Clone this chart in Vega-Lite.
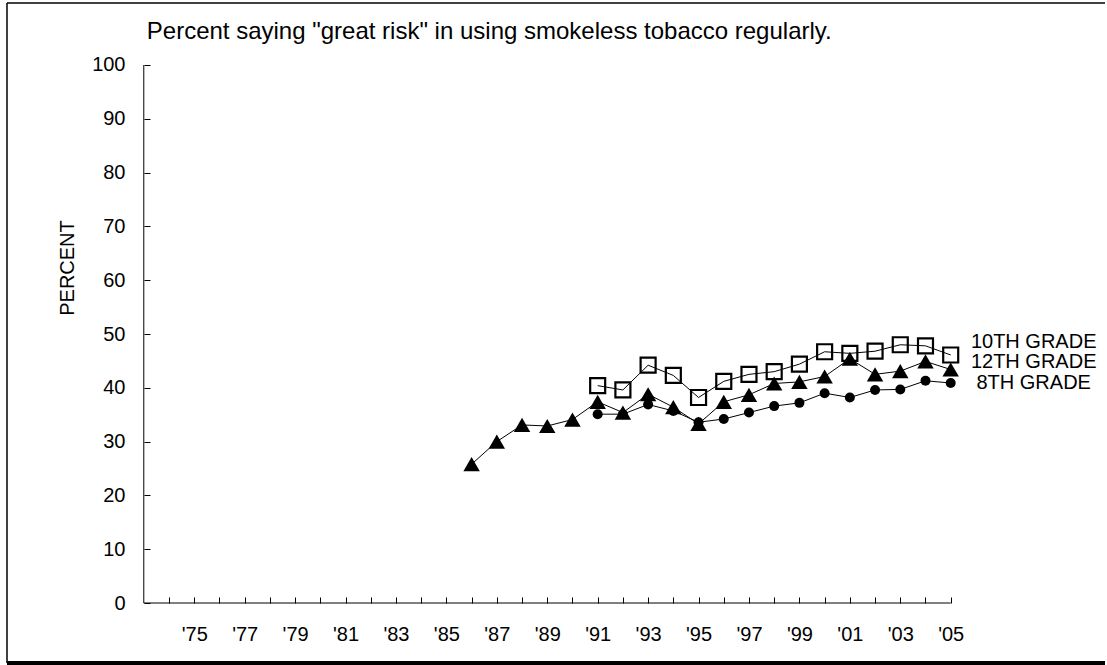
{
  "$schema": "https://vega.github.io/schema/vega-lite/v6.json",
  "width": 1098,
  "height": 660,
  "autosize": {"type": "none"},
  "padding": {"left": 7, "top": 3, "right": 2, "bottom": 2},
  "background": "white",
  "config": {
    "view": {"stroke": null},
    "font": "Liberation Sans",
    "axis": {
      "labelFont": "Liberation Sans",
      "titleFont": "Liberation Sans",
      "labelColor": "black",
      "titleColor": "black",
      "tickColor": "black",
      "labelFontSize": 20,
      "titleFontSize": 20,
      "titleFontWeight": "normal",
      "grid": false,
      "domain": false
    }
  },
  "datasets": {
    "series": [
      {"grade": "12TH GRADE", "year": 1986, "pct": 25.8},
      {"grade": "12TH GRADE", "year": 1987, "pct": 30.0},
      {"grade": "12TH GRADE", "year": 1988, "pct": 33.1},
      {"grade": "12TH GRADE", "year": 1989, "pct": 32.9},
      {"grade": "12TH GRADE", "year": 1990, "pct": 34.1},
      {"grade": "12TH GRADE", "year": 1991, "pct": 37.4},
      {"grade": "12TH GRADE", "year": 1992, "pct": 35.4},
      {"grade": "12TH GRADE", "year": 1993, "pct": 38.8},
      {"grade": "12TH GRADE", "year": 1994, "pct": 36.4},
      {"grade": "12TH GRADE", "year": 1995, "pct": 33.3},
      {"grade": "12TH GRADE", "year": 1996, "pct": 37.4},
      {"grade": "12TH GRADE", "year": 1997, "pct": 38.7},
      {"grade": "12TH GRADE", "year": 1998, "pct": 40.8},
      {"grade": "12TH GRADE", "year": 1999, "pct": 41.1},
      {"grade": "12TH GRADE", "year": 2000, "pct": 42.1},
      {"grade": "12TH GRADE", "year": 2001, "pct": 45.4},
      {"grade": "12TH GRADE", "year": 2002, "pct": 42.5},
      {"grade": "12TH GRADE", "year": 2003, "pct": 43.1},
      {"grade": "12TH GRADE", "year": 2004, "pct": 44.9},
      {"grade": "12TH GRADE", "year": 2005, "pct": 43.4},
      {"grade": "10TH GRADE", "year": 1991, "pct": 40.4},
      {"grade": "10TH GRADE", "year": 1992, "pct": 39.6},
      {"grade": "10TH GRADE", "year": 1993, "pct": 44.2},
      {"grade": "10TH GRADE", "year": 1994, "pct": 42.3},
      {"grade": "10TH GRADE", "year": 1995, "pct": 38.2},
      {"grade": "10TH GRADE", "year": 1996, "pct": 41.2},
      {"grade": "10TH GRADE", "year": 1997, "pct": 42.5},
      {"grade": "10TH GRADE", "year": 1998, "pct": 43.0},
      {"grade": "10TH GRADE", "year": 1999, "pct": 44.4},
      {"grade": "10TH GRADE", "year": 2000, "pct": 46.7},
      {"grade": "10TH GRADE", "year": 2001, "pct": 46.4},
      {"grade": "10TH GRADE", "year": 2002, "pct": 46.8},
      {"grade": "10TH GRADE", "year": 2003, "pct": 48.0},
      {"grade": "10TH GRADE", "year": 2004, "pct": 47.8},
      {"grade": "10TH GRADE", "year": 2005, "pct": 46.1},
      {"grade": "8TH GRADE", "year": 1991, "pct": 35.1},
      {"grade": "8TH GRADE", "year": 1992, "pct": 35.1},
      {"grade": "8TH GRADE", "year": 1993, "pct": 36.9},
      {"grade": "8TH GRADE", "year": 1994, "pct": 35.7},
      {"grade": "8TH GRADE", "year": 1995, "pct": 33.6},
      {"grade": "8TH GRADE", "year": 1996, "pct": 34.2},
      {"grade": "8TH GRADE", "year": 1997, "pct": 35.4},
      {"grade": "8TH GRADE", "year": 1998, "pct": 36.6},
      {"grade": "8TH GRADE", "year": 1999, "pct": 37.2},
      {"grade": "8TH GRADE", "year": 2000, "pct": 39.0},
      {"grade": "8TH GRADE", "year": 2001, "pct": 38.2},
      {"grade": "8TH GRADE", "year": 2002, "pct": 39.6},
      {"grade": "8TH GRADE", "year": 2003, "pct": 39.7},
      {"grade": "8TH GRADE", "year": 2004, "pct": 41.3},
      {"grade": "8TH GRADE", "year": 2005, "pct": 40.9}
    ],
    "labels": [
      {"grade": "10TH GRADE", "year": 2005, "pct": 48.6},
      {"grade": "12TH GRADE", "year": 2005, "pct": 44.85},
      {"grade": "8TH GRADE", "year": 2005, "pct": 40.85}
    ],
    "heading": [
      {"text": "Percent saying \"great risk\" in using smokeless tobacco regularly.", "year": 1973, "pct": 104.8}
    ],
    "one": [{}]
  },
  "layer": [
    {
      "data": {"name": "series"},
      "mark": {"type": "line", "color": "black", "strokeWidth": 1},
      "encoding": {
        "x": {
          "field": "year",
          "type": "quantitative",
          "scale": {"domain": [1967.575, 2011.119], "nice": false, "zero": false},
          "axis": {
            "orient": "bottom",
            "offset": -60,
            "title": null,
            "format": "d",
            "tickCount": 200,
            "values": [1974, 1975, 1976, 1977, 1978, 1979, 1980, 1981, 1982, 1983, 1984, 1985, 1986, 1987, 1988, 1989, 1990, 1991, 1992, 1993, 1994, 1995, 1996, 1997, 1998, 1999, 2000, 2001, 2002, 2003, 2004, 2005],
            "labelExpr": "datum.value % 2 == 1 ? \"'\" + substring(datum.label, 2, 4) : ''",
            "tickSize": -6,
            "labelPadding": 27,
            "labelAngle": 0,
            "labelOverlap": false,
            "labelFlush": false,
            "labelBound": false
          }
        },
        "y": {
          "field": "pct",
          "type": "quantitative",
          "scale": {"domain": [-11.152, 111.524], "nice": false, "zero": false},
          "axis": {
            "orient": "left",
            "offset": -137,
            "title": "PERCENT",
            "titleAngle": -90,
            "titleAlign": "center",
            "titleBaseline": "alphabetic",
            "titleX": -71,
            "titleY": 264.5,
            "tickCount": 50,
            "values": [0, 10, 20, 30, 40, 50, 60, 70, 80, 90, 100],
            "tickSize": -6,
            "labelPadding": 25,
            "labelOverlap": false,
            "labelFlush": false,
            "labelBound": false
          }
        },
        "detail": {"field": "grade"},
        "order": {"field": "year"}
      }
    },
    {
      "data": {"name": "series"},
      "transform": [{"filter": "datum.grade == '10TH GRADE'"}],
      "mark": {"type": "point", "shape": "square", "size": 225, "filled": false, "stroke": "black", "strokeWidth": 2.2, "opacity": 1},
      "encoding": {
        "x": {"field": "year", "type": "quantitative"},
        "y": {"field": "pct", "type": "quantitative"}
      }
    },
    {
      "data": {"name": "series"},
      "transform": [{"filter": "datum.grade == '12TH GRADE'"}],
      "mark": {"type": "point", "shape": "triangle-up", "size": 270, "filled": true, "color": "black", "opacity": 1},
      "encoding": {
        "x": {"field": "year", "type": "quantitative"},
        "y": {"field": "pct", "type": "quantitative"}
      }
    },
    {
      "data": {"name": "series"},
      "transform": [{"filter": "datum.grade == '8TH GRADE'"}],
      "mark": {"type": "point", "shape": "circle", "size": 100, "filled": true, "color": "black", "opacity": 1},
      "encoding": {
        "x": {"field": "year", "type": "quantitative"},
        "y": {"field": "pct", "type": "quantitative"}
      }
    },
    {
      "data": {"name": "labels"},
      "mark": {"type": "text", "align": "center", "baseline": "middle", "dx": 83, "fontSize": 20, "font": "Liberation Sans", "color": "black"},
      "encoding": {
        "x": {"field": "year", "type": "quantitative"},
        "y": {"field": "pct", "type": "quantitative"},
        "text": {"field": "grade"}
      }
    },
    {
      "data": {"name": "heading"},
      "mark": {"type": "text", "align": "left", "baseline": "alphabetic", "dx": 3, "fontSize": 24, "font": "Liberation Sans", "color": "black"},
      "encoding": {
        "x": {"field": "year", "type": "quantitative"},
        "y": {"field": "pct", "type": "quantitative"},
        "text": {"field": "text"}
      }
    },
    {
      "data": {"name": "one"},
      "mark": {"type": "rule", "color": "black", "strokeWidth": 1},
      "encoding": {
        "x": {"datum": 1973, "type": "quantitative"},
        "y": {"datum": 0, "type": "quantitative"},
        "y2": {"datum": 100}
      }
    },
    {
      "data": {"name": "one"},
      "mark": {"type": "rule", "color": "black", "strokeWidth": 1},
      "encoding": {
        "x": {"datum": 1973, "type": "quantitative"},
        "x2": {"datum": 2005},
        "y": {"datum": 0, "type": "quantitative"}
      }
    },
    {
      "data": {"name": "one"},
      "mark": {"type": "rule", "color": "black", "strokeWidth": 1.5},
      "encoding": {
        "x": {"datum": 1967.575, "type": "quantitative"},
        "x2": {"datum": 2011.119},
        "y": {"datum": 111.524, "type": "quantitative"}
      }
    },
    {
      "data": {"name": "one"},
      "mark": {"type": "rule", "color": "black", "strokeWidth": 1.5},
      "encoding": {
        "x": {"datum": 1967.575, "type": "quantitative"},
        "y": {"datum": -11.152, "type": "quantitative"},
        "y2": {"datum": 111.524}
      }
    },
    {
      "data": {"name": "one"},
      "mark": {"type": "rule", "color": "black", "strokeWidth": 4},
      "encoding": {
        "x": {"datum": 1967.575, "type": "quantitative"},
        "x2": {"datum": 2011.119},
        "y": {"datum": -11.152, "type": "quantitative"}
      }
    }
  ]
}
